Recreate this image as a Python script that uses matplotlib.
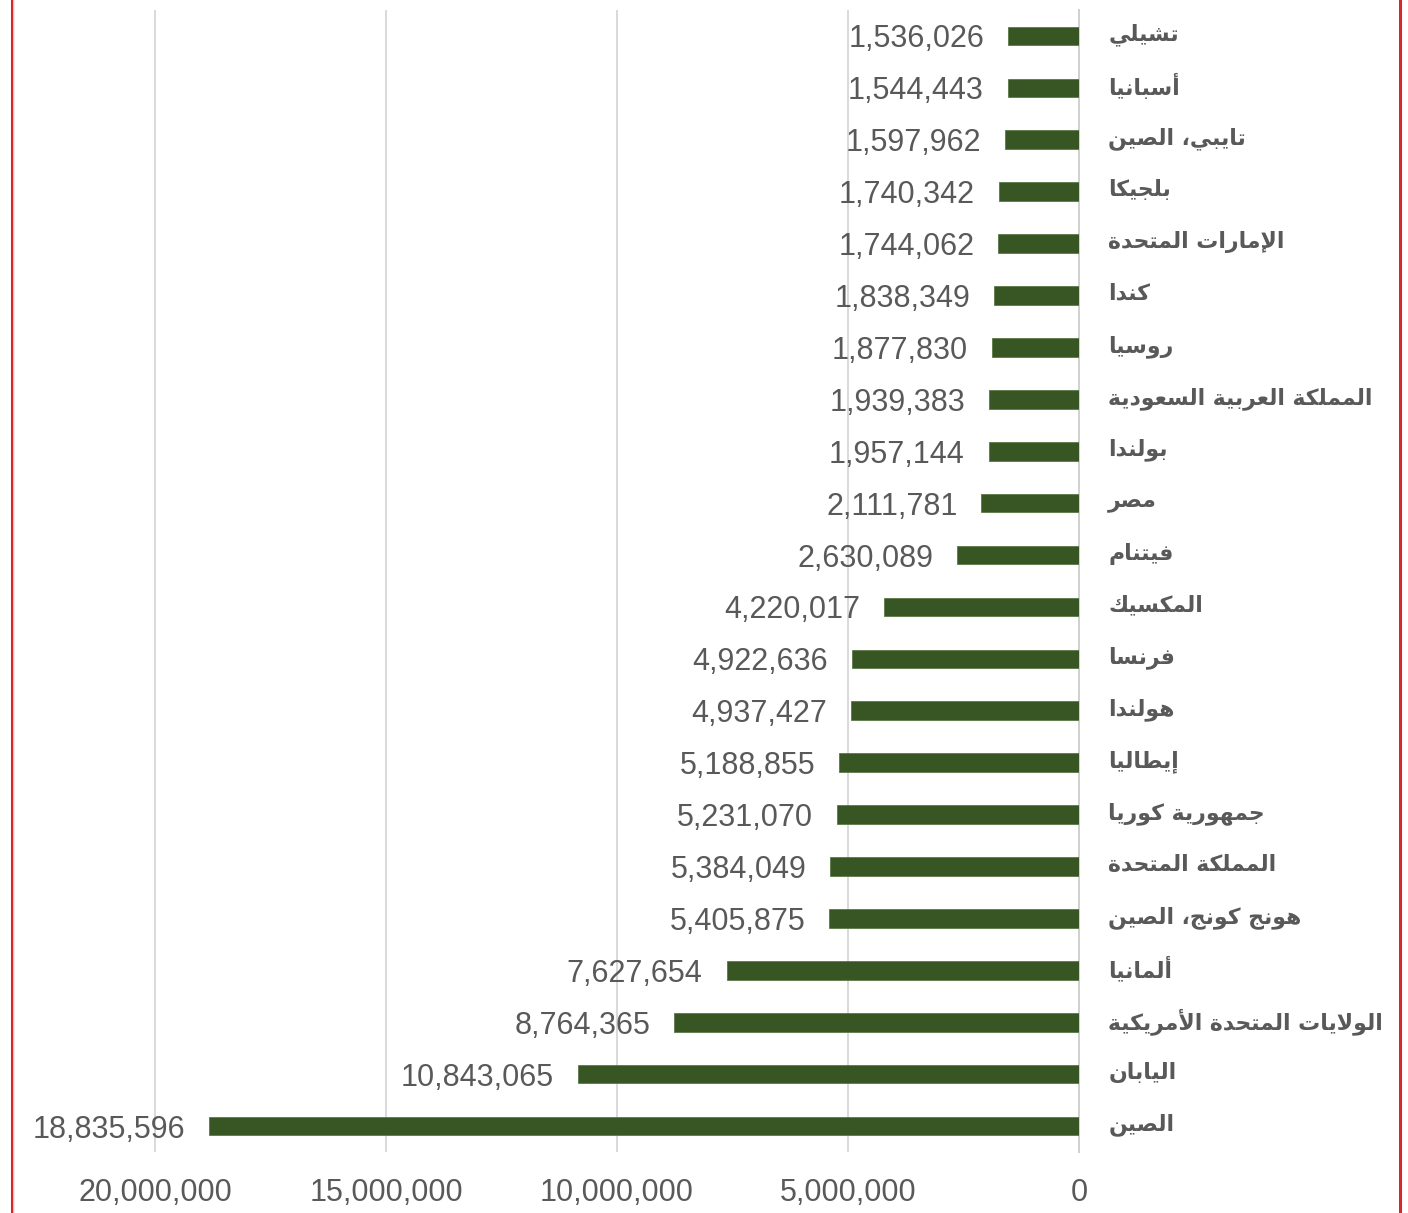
import numpy as np
import matplotlib.pyplot as plt
import matplotlib.transforms as mtrans
from matplotlib.lines import Line2D
from matplotlib.ticker import FuncFormatter

# data, bottom bar first
countries = ["الصين", "اليابان", "الولايات المتحدة الأمريكية", "ألمانيا",
             "هونج كونج، الصين", "المملكة المتحدة", "جمهورية كوريا", "إيطاليا",
             "هولندا", "فرنسا", "المكسيك", "فيتنام", "مصر", "بولندا",
             "المملكة العربية السعودية", "روسيا", "كندا", "الإمارات المتحدة",
             "بلجيكا", "تايبي، الصين", "أسبانيا", "تشيلي"]
values = [18835596, 10843065, 8764365, 7627654, 5405875, 5384049, 5231070,
          5188855, 4937427, 4922636, 4220017, 2630089, 2111781, 1957144,
          1939383, 1877830, 1838349, 1744062, 1740342, 1597962, 1544443,
          1536026]
ticks = [0, 5000000, 10000000, 15000000, 20000000]

# small arabic shaper (matplotlib does no joining / rtl)
dual = {'ب': 0xFE8F, 'ت': 0xFE95, 'ث': 0xFE99, 'ج': 0xFE9D, 'ح': 0xFEA1,
        'خ': 0xFEA5, 'س': 0xFEB1, 'ش': 0xFEB5, 'ص': 0xFEB9, 'ض': 0xFEBD,
        'ط': 0xFEC1, 'ظ': 0xFEC5, 'ع': 0xFEC9, 'غ': 0xFECD, 'ف': 0xFED1,
        'ق': 0xFED5, 'ك': 0xFED9, 'ل': 0xFEDD, 'م': 0xFEE1, 'ن': 0xFEE5,
        'ه': 0xFEE9, 'ي': 0xFEF1}
right = {'ا': 0xFE8D, 'أ': 0xFE83, 'إ': 0xFE87, 'آ': 0xFE81, 'ة': 0xFE93,
         'د': 0xFEA9, 'ذ': 0xFEAB, 'ر': 0xFEAD, 'ز': 0xFEAF, 'و': 0xFEED,
         'ى': 0xFEEF}
lamalef = {'آ': 0xFEF5, 'أ': 0xFEF7, 'إ': 0xFEF9, 'ا': 0xFEFB}


def shape(text):
    toks = []
    i = 0
    while i < len(text):
        c = text[i]
        if c == 'ل' and i + 1 < len(text) and text[i + 1] in lamalef:
            toks.append('LA' + text[i + 1])
            i += 2
        else:
            toks.append(c)
            i += 1
    out = []
    for k, t in enumerate(toks):
        prev = toks[k - 1] if k > 0 else ''
        nxt = toks[k + 1] if k + 1 < len(toks) else ''
        pj = prev in dual
        if t.startswith('LA'):
            out.append(chr(lamalef[t[2]] + (1 if pj else 0)))
        elif t in dual:
            nj = nxt in dual or nxt in right or nxt.startswith('LA')
            off = {(False, False): 0, (True, False): 1,
                   (False, True): 2, (True, True): 3}[(pj, nj)]
            out.append(chr(dual[t] + off))
        elif t in right:
            out.append(chr(right[t] + (1 if pj else 0)))
        else:
            out.append(t)
    return ''.join(out[::-1])


W, H = 1408, 1213
fig = plt.figure(figsize=(W / 100, H / 100), dpi=100)
x0, x1 = 15, 1079
y0, y1 = 10, 1152
ax = fig.add_axes([x0 / W, 1 - y1 / H, (x1 - x0) / W, (y1 - y0) / H])

scale = 20000000 / (1079 - 155)
ax.set_xlim((x1 - x0) * scale, 0)
ax.set_ylim(-0.5, len(values) - 0.5)

pos = np.arange(len(values))
ax.barh(pos, values, height=0.36, color='#375623', edgecolor='#5b7a48',
        linewidth=0.6, zorder=3)

gray = '#595959'
num_font = 'Liberation Sans'
for p, v in zip(pos, values):
    ax.annotate(f"{v:,}", (v, p), xytext=(-24, 0), textcoords='offset pixels',
                ha='right', va='center_baseline', fontsize=22, color=gray,
                family=num_font)

ax.set_xticks(ticks)
ax.xaxis.set_major_formatter(FuncFormatter(lambda v, _: f"{int(v):,}"))
ax.tick_params(axis='x', length=0, pad=19, labelsize=22, labelcolor=gray)
for lab in ax.get_xticklabels():
    lab.set_family(num_font)
ax.grid(axis='x', color='#d9d9d9', linewidth=1.4, zorder=0)

ax.set_yticks(pos)
ax.set_yticklabels([shape(c) for c in countries])
ax.yaxis.tick_right()
ax.tick_params(axis='y', length=0, pad=21, labelsize=15.8, labelcolor=gray)
shift = mtrans.ScaledTranslation(0, 4 / 100, fig.dpi_scale_trans)
for lab in ax.get_yticklabels():
    lab.set_ha('left')
    lab.set_family('DejaVu Sans')
    lab.set_weight('bold')
    lab.set_transform(lab.get_transform() + shift)

for s in ['top', 'bottom', 'left']:
    ax.spines[s].set_visible(False)
ax.spines['right'].set_color('#d0d0d0')
ax.spines['right'].set_linewidth(1.4)

# red frame lines at the image edges
fig.add_artist(Line2D([11.5 / W, 11.5 / W], [0, 1], color='#d9262c', lw=2.2))
fig.add_artist(Line2D([14 / W, 14 / W], [0, 1], color='#e6e6e6', lw=1.2))
fig.add_artist(Line2D([1400 / W, 1400 / W], [0, 1], color='#d9262c', lw=2.2))

fig.savefig('out.png', dpi=100)
